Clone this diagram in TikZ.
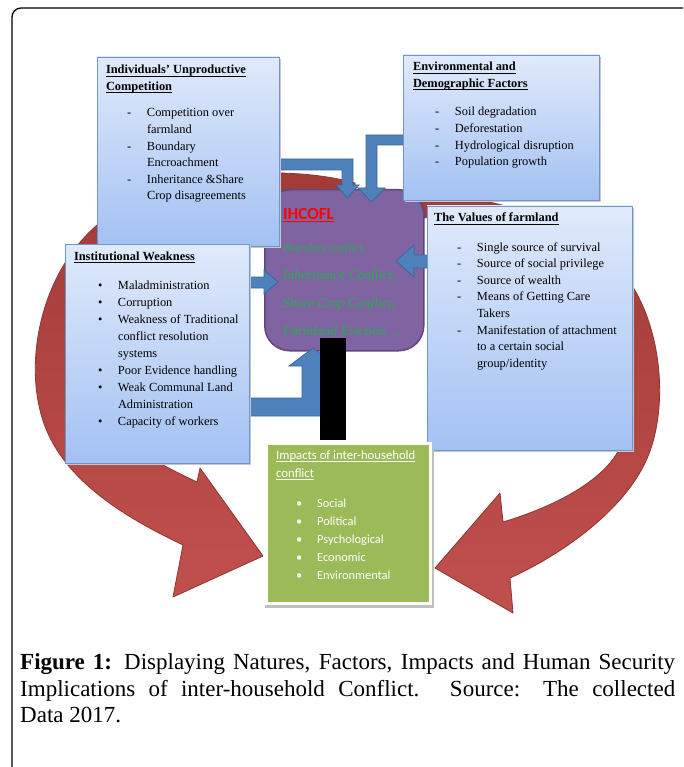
\documentclass[tikz,border=0pt]{standalone}
\usepackage{fontspec}
\setmainfont{Liberation Serif}
\newfontfamily\calfont{Carlito}
\newsavebox{\myulbox}
\newcommand{\myul}[1]{\sbox{\myulbox}{#1}\rlap{\rule[-2.3pt]{\wd\myulbox}{0.7pt}}\usebox{\myulbox}}
\definecolor{bluetop}{HTML}{E0EAFB}
\definecolor{bluebot}{HTML}{A3C1F3}
\definecolor{blueedge}{HTML}{6F96CB}
\definecolor{arrowblue}{HTML}{4F81BD}
\definecolor{arrowedge}{HTML}{3A6597}
\definecolor{redfill}{HTML}{C0504D}
\definecolor{reddark}{HTML}{A23A37}
\definecolor{rededge}{HTML}{8E3532}
\definecolor{purp}{HTML}{8064A2}
\definecolor{purpedge}{HTML}{5D4878}
\definecolor{greenbox}{HTML}{9BBB59}
\definecolor{greentext}{HTML}{22B04E}
\begin{document}
\begin{tikzpicture}[x=1pt,y=-1pt,
  infobox/.style={draw=blueedge,line width=0.8pt,top color=bluetop,bottom color=bluebot,anchor=north west,inner sep=0pt,outer sep=0pt},
  shadowbox/.style={fill=black!22,draw=none,anchor=north west,inner sep=0pt,outer sep=0pt},
  txt/.style={anchor=base west,inner sep=0pt,outer sep=0pt,font=\fontsize{12.4}{16.6}\selectfont},
  ttl/.style={txt,font=\fontsize{12.4}{16.4}\selectfont\bfseries},
  grn/.style={anchor=base west,inner sep=0pt,text=greentext,font=\fontsize{13.5}{16}\selectfont\itshape},
  barrow/.style={fill=arrowblue,draw=arrowedge,line width=0.8pt,line join=miter},
  rarrow/.style={draw=rededge,line width=0.8pt,top color=reddark,bottom color=redfill,line join=round}
]
\useasboundingbox (0,0) rectangle (683,767);
\clip (0,0) rectangle (683,767);
\fill[white] (0,0) rectangle (683,767);
\draw[line width=1.3pt,rounded corners=9pt] (12,8) rectangle (720,800);

% red curved arrows
\path[rarrow] (355,183) .. controls (300,167) and (180,165) .. (110,215)
  .. controls (45,260) and (25,350) .. (40,410)
  .. controls (55,475) and (120,515) .. (183,545)
  -- (173,597) -- (263,556) -- (200,468) -- (197,482)
  .. controls (150,460) and (95,430) .. (82,380)
  .. controls (70,320) and (90,260) .. (140,228)
  .. controls (200,195) and (290,195) .. (355,210) -- cycle;
\path[rarrow] (400,195) .. controls (500,190) and (600,230) .. (633,287)
  .. controls (665,340) and (668,420) .. (643,467)
  .. controls (615,520) and (550,560) .. (510,578)
  -- (513,613) -- (435,568) -- (500,493) -- (503,522)
  .. controls (560,505) and (630,470) .. (625,420)
  .. controls (640,330) and (590,240) .. (500,222)
  .. controls (460,215) and (430,215) .. (400,222) -- cycle;

% central box
\node[draw=purpedge,line width=1.5pt,fill=purp,rounded corners=25pt,minimum width=159pt,minimum height=161pt,anchor=north west,inner sep=0pt] (ihc) at (264,189) {};

% blue block arrows
\path[barrow] (270,159) -- (353,159) -- (353,185) -- (359,185) -- (347.5,198) -- (336,185) -- (342,185) -- (342,170) -- (270,170) -- cycle;
\path[barrow] (410,135) -- (366,135) -- (366,188) -- (358,188) -- (371.5,202) -- (385,188) -- (377,188) -- (377,145) -- (410,145) -- cycle;
\path[barrow] (240,277) -- (264,277) -- (264,270) -- (278,282) -- (264,294) -- (264,288) -- (240,288) -- cycle;
\path[barrow] (440,255) -- (414,255) -- (414,245) -- (396,261) -- (414,277) -- (414,268) -- (440,268) -- cycle;
\path[barrow] (240,398) -- (302,398) -- (302,366) -- (289,366) -- (313,348) -- (337,366) -- (324,366) -- (324,416) -- (240,416) -- cycle;

% black bar
\node[fill=black,minimum width=26pt,minimum height=102pt,anchor=north west,inner sep=0pt] (bar) at (320,338) {};

% text in central box
\node[anchor=base west,inner sep=0pt,text=red,font=\fontsize{17}{20}\selectfont\calfont\bfseries] (ihct) at (283,219) {\myul{IHCOFL}};
\node[grn,font=\fontsize{11}{14}\selectfont\itshape] (c1) at (283,251) {Boundary conflict,};
\node[grn] (c2) at (283,279) {Inheritance Conflict,};
\node[grn] (c3) at (283,307) {Share Crop Conflict,};
\node[grn] (c4) at (283,335) {Farmland Eviction…..};

% info boxes
\node[shadowbox,minimum width=182pt,minimum height=189pt] (inds) at (99,59) {};
\node[infobox,minimum width=182pt,minimum height=189pt] (ind) at (97,57) {};
\node[shadowbox,minimum width=196pt,minimum height=145pt] (envs) at (405,57) {};
\node[infobox,minimum width=196pt,minimum height=145pt] (env) at (403,55) {};
\node[shadowbox,minimum width=205pt,minimum height=244pt] (vals) at (429,208) {};
\node[infobox,minimum width=205pt,minimum height=244pt] (val) at (427,206) {};
\node[shadowbox,minimum width=184pt,minimum height=219pt] (insts) at (67,246) {};
\node[infobox,minimum width=184pt,minimum height=219pt] (inst) at (65,244) {};

\node[ttl] (indT) at (106,74) {\begin{tabular}[t]{@{}l@{}}\myul{Individuals’ Unproductive}\\ \myul{Competition}\end{tabular}};
\node[txt] (indL) at (127,117) {\begin{tabular}[t]{@{}p{20pt}@{}l@{}}
-&Competition over\\ &farmland\\ -&Boundary\\ &Encroachment\\ -&Inheritance \&Share\\ &Crop disagreements\end{tabular}};

\node[ttl] (envT) at (413,71) {\begin{tabular}[t]{@{}l@{}}\myul{Environmental and}\\ \myul{Demographic Factors}\end{tabular}};
\node[txt] (envL) at (435,116) {\begin{tabular}[t]{@{}p{20pt}@{}l@{}}
-&Soil degradation\\ -&Deforestation\\ -&Hydrological disruption\\ -&Population growth\end{tabular}};

\node[ttl] (valT) at (434,222) {\myul{The Values of farmland}};
\node[txt] (valL) at (457,251) {\begin{tabular}[t]{@{}p{20pt}@{}l@{}}
-&Single source of survival\\ -&Source of social privilege\\ -&Source of wealth\\ -&Means of Getting Care\\ &Takers\\ -&Manifestation of attachment\\ &to a certain social\\ &group/identity\end{tabular}};

\node[ttl] (instT) at (74,260) {\myul{Institutional Weakness}};
\node[txt,font=\fontsize{12.4}{17.1}\selectfont] (instL) at (98,289) {\begin{tabular}[t]{@{}p{20pt}@{}l@{}}
•&Maladministration\\ •&Corruption\\ •&Weakness of Traditional\\ &conflict resolution\\ &systems\\ •&Poor Evidence handling\\ •&Weak Communal Land\\ &Administration\\ •&Capacity of workers\end{tabular}};

% impacts box
\node[fill=black!25,minimum width=169pt,minimum height=163pt,anchor=north west,inner sep=0pt] (imps) at (265,445) {};
\node[fill=white,minimum width=169pt,minimum height=163pt,anchor=north west,inner sep=0pt] (impw) at (263,442) {};
\node[fill=greenbox,minimum width=161pt,minimum height=157pt,anchor=north west,inner sep=0pt] (imp) at (268,445) {};
\node[anchor=base west,inner sep=0pt,text=white,font=\fontsize{12.7}{18}\selectfont\calfont] (impT) at (276,459) {\begin{tabular}[t]{@{}l@{}}\myul{Impacts of inter-household}\\ \myul{conflict}\end{tabular}};
\node[anchor=base west,inner sep=0pt,text=white,font=\fontsize{12.4}{18.1}\selectfont\calfont] (impL) at (296,507) {\begin{tabular}[t]{@{}p{21pt}@{}l@{}}
•&Social\\ •&Political\\ •&Psychological\\ •&Economic\\ •&Environmental\end{tabular}};

% caption
\node[anchor=base west,inner sep=0pt,font=\fontsize{23}{26}\selectfont] (cap1) at (20,669) {\makebox[655pt][s]{\textbf{Figure 1:} Displaying Natures, Factors, Impacts and Human Security}};
\node[anchor=base west,inner sep=0pt,font=\fontsize{23}{26}\selectfont] (cap2) at (20,696) {\makebox[655pt][s]{Implications of inter-household Conflict. Source: The collected}};
\node[anchor=base west,inner sep=0pt,font=\fontsize{23}{26}\selectfont] (cap3) at (20,722) {Data 2017.};
\end{tikzpicture}
\end{document}
